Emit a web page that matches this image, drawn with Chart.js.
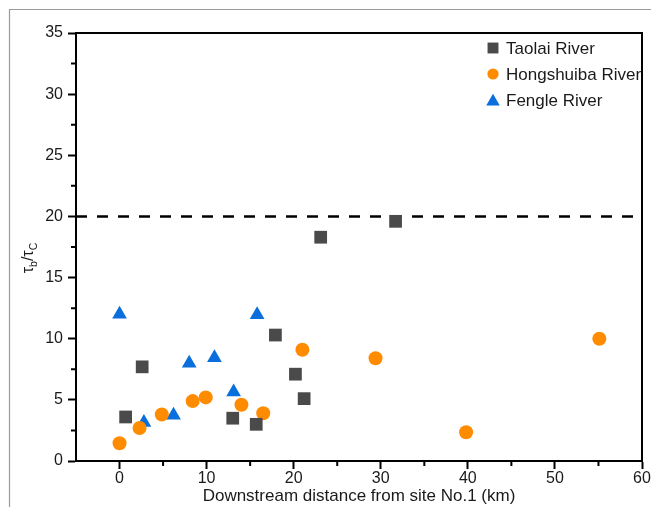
<!DOCTYPE html>
<html>
<head>
<meta charset="utf-8">
<script src="https://cdn.jsdelivr.net/npm/chart.js@4.4.1/dist/chart.umd.min.js"></script>
<style>
  html, body { margin: 0; padding: 0; background: #fff; }
  #wrap { width: 651px; height: 507px; position: relative; }
</style>
</head>
<body>
<div id="wrap"><canvas id="c"></canvas></div>
<script>
// values
const taolaiX = [0.7, 2.6, 13.0, 15.7, 17.9, 20.2, 21.2, 23.1, 31.7];
const taolaiY = [3.6, 7.7, 3.5, 3.0, 10.3, 7.1, 5.1, 18.3, 19.6];

const hongshuibaX = [0, 2.3, 4.85, 8.4, 9.9, 14.0, 16.5, 21.0, 29.4, 39.8, 55.1];
const hongshuibaY = [1.45, 2.7, 3.8, 4.9, 5.2, 4.6, 3.9, 9.1, 8.4, 2.35, 10.0];

const fengleX = [0, 2.8, 6.2, 8.0, 10.9, 13.1, 15.8];
const fengleY = [12.0, 3.15, 3.75, 8.0, 8.45, 5.65, 11.95];

const threshold = 20;
const xMin = -5, xMax = 60;
const yMin = 0, yMax = 35;
const xTicks = [0, 10, 20, 30, 40, 50, 60];
const xMinorTicks = [5, 15, 25, 35, 45, 55];
const yTicks = [0, 5, 10, 15, 20, 25, 30, 35];
const yMinorTicks = [2.5, 7.5, 12.5, 17.5, 22.5, 27.5, 32.5];

const FONT = "'Liberation Sans', Arial, sans-serif";

const toPoints = (xs, ys) => xs.map((x, i) => ({ x: x, y: ys[i] }));

const series = [
  { label: 'Taolai River', xs: taolaiX, ys: taolaiY, style: 'rect', color: '#4a4a4a', r: 9, lr: 7.7 },
  { label: 'Hongshuiba River', xs: hongshuibaX, ys: hongshuibaY, style: 'circle', color: '#ff8c00', r: 7, lr: 5.6 },
  { label: 'Fengle River', xs: fengleX, ys: fengleY, style: 'triangle', color: '#0a6fdc', r: 8.5, lr: 7.8 }
];

const datasets = series.map(s => ({
  label: s.label,
  data: toPoints(s.xs, s.ys),
  pointStyle: s.style,
  pointRadius: s.r,
  pointHoverRadius: s.r,
  backgroundColor: s.color,
  borderColor: s.color,
  borderWidth: 0,
  legendRadius: s.lr
}));

datasets.push({
  label: 'threshold',
  data: [{ x: xMin, y: threshold }, { x: xMax, y: threshold }],
  showLine: true,
  pointRadius: 0,
  borderColor: '#000',
  borderWidth: 2.5,
  borderDash: [11, 10],
  order: 5
});

// frame, minor ticks, legend and y title
const extras = {
  id: 'extras',
  beforeDraw(chart) {
    const ctx = chart.ctx;
    ctx.save();
    ctx.strokeStyle = '#9a9a9a';
    ctx.lineWidth = 1.2;
    ctx.beginPath();
    ctx.moveTo(9.5, 507);
    ctx.lineTo(9.5, 9.5);
    ctx.lineTo(651, 9.5);
    ctx.stroke();
    ctx.restore();
  },
  afterDraw(chart) {
    const ctx = chart.ctx;
    const a = chart.chartArea;
    const xs = chart.scales.x, ys = chart.scales.y;
    ctx.save();
    ctx.strokeStyle = '#000';
    ctx.lineWidth = 2;
    ctx.beginPath();
    ctx.moveTo(a.left, a.top);
    ctx.lineTo(a.right, a.top);
    ctx.lineTo(a.right, a.bottom);
    ctx.stroke();

    ctx.beginPath();
    xMinorTicks.forEach(v => {
      const px = xs.getPixelForValue(v);
      ctx.moveTo(px, a.bottom);
      ctx.lineTo(px, a.bottom + 5);
    });
    yMinorTicks.forEach(v => {
      const py = ys.getPixelForValue(v);
      ctx.moveTo(a.left, py);
      ctx.lineTo(a.left - 5, py);
    });
    ctx.stroke();

    // legend
    const lx = 493, ly = 48, step = 26;
    chart.data.datasets.slice(0, series.length).forEach((d, i) => {
      const y = ly + i * step;
      ctx.fillStyle = d.backgroundColor;
      ctx.strokeStyle = d.backgroundColor;
      Chart.helpers.drawPoint(ctx, { pointStyle: d.pointStyle, radius: d.legendRadius, rotation: 0, borderWidth: 0 }, lx, d.pointStyle === 'triangle' ? y + 1.5 : y);
      ctx.fillStyle = '#1a1a1a';
      ctx.font = '17px ' + FONT;
      ctx.textAlign = 'left';
      ctx.textBaseline = 'middle';
      ctx.fillText(d.label, lx + 13, y + 1);
    });

    // y title: tau_b / tau_C
    ctx.translate(33, 258);
    ctx.rotate(-Math.PI / 2);
    ctx.fillStyle = '#1a1a1a';
    ctx.textBaseline = 'alphabetic';
    const parts = [
      { t: '\u03c4', size: 16, dy: 0 },
      { t: 'b', size: 10.5, dy: 4 },
      { t: '/', size: 16, dy: 0 },
      { t: '\u03c4', size: 16, dy: 0 },
      { t: 'C', size: 10.5, dy: 4 }
    ];
    let total = 0;
    parts.forEach(p => { ctx.font = p.size + 'px ' + FONT; p.w = ctx.measureText(p.t).width; total += p.w; });
    let cx = -total / 2;
    parts.forEach(p => {
      ctx.font = p.size + 'px ' + FONT;
      ctx.fillText(p.t, cx, p.dy);
      cx += p.w;
    });
    ctx.restore();
  }
};

new Chart(document.getElementById('c'), {
  type: 'scatter',
  data: { datasets: datasets },
  plugins: [extras],
  options: {
    responsive: true,
    maintainAspectRatio: false,
    animation: false,
    layout: { padding: { top: 33, right: 8, left: 0, bottom: 0 } },
    plugins: { legend: { display: false }, tooltip: { enabled: false } },
    scales: {
      x: {
        type: 'linear',
        min: xMin,
        max: xMax,
        afterBuildTicks: s => { s.ticks = xTicks.map(v => ({ value: v })); },
        afterFit: s => { s.height = 46; },
        ticks: { font: { family: FONT, size: 16 }, color: '#1a1a1a', padding: 0, maxRotation: 0, autoSkip: false },
        grid: { drawOnChartArea: false, drawTicks: true, tickLength: 8, tickWidth: 2, tickColor: '#000' },
        border: { display: true, color: '#000', width: 2 },
        title: {
          display: true,
          text: 'Downstream distance from site No.1 (km)',
          font: { family: FONT, size: 17 },
          color: '#1a1a1a',
          padding: { top: 0, bottom: 0 }
        }
      },
      y: {
        type: 'linear',
        min: yMin,
        max: yMax,
        afterBuildTicks: s => { s.ticks = yTicks.map(v => ({ value: v })); },
        afterFit: s => { s.width = 76; },
        ticks: { font: { family: FONT, size: 16 }, color: '#1a1a1a', padding: 5, autoSkip: false },
        grid: { drawOnChartArea: false, drawTicks: true, tickLength: 8, tickWidth: 2, tickColor: '#000' },
        border: { display: true, color: '#000', width: 2 }
      }
    }
  }
});
</script>
</body>
</html>
